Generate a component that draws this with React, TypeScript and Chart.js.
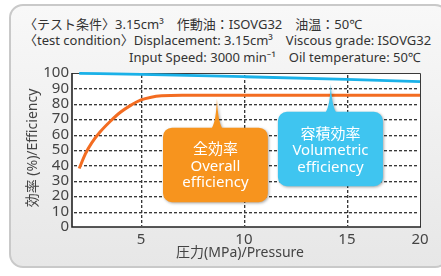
import React, { useEffect, useRef } from 'react';
import { Chart, registerables } from 'chart.js';

Chart.register(...registerables);

// ---- data ----
const overallPressure = [2.0, 2.3, 2.6, 3.0, 3.5, 4.0, 4.5, 5.0, 5.5, 6.0, 7.0, 12.0, 18.55];
const overallEfficiency = [38, 47.5, 54.5, 61.5, 68.5, 74.5, 79, 82.5, 84.3, 85.2, 85.6, 85.6, 85.6];
const volumetricPressure = [2.0, 5.0, 10.0, 15.0, 18.55];
const volumetricEfficiency = [99.8, 99.1, 97.6, 95.9, 94.4];
const xTickValues = [5, 10, 15, 18.55];
const xTickLabels = ['5', '10', '15', '20'];
const yMin = 0;
const yMax = 100;
const yStep = 10;
const headerLine1 = '〈テスト条件〉3.15cm³　作動油：ISOVG32　油温：50℃';
const headerLine2 = '〈test condition〉Displacement: 3.15cm³　Viscous grade: ISOVG32';
const headerLine3 = 'Input Speed: 3000 min⁻¹　Oil temperature: 50℃';
const xTitle = '圧力(MPa)/Pressure';
const yTitle = '効率 (%)/Efficiency';
const overallLabel = ['全効率', 'Overall', 'efficiency'];
const volumetricLabel = ['容積効率', 'Volumetric', 'efficiency'];

const FONT = '"Noto Sans", "Noto Sans CJK JP", sans-serif';

// callout geometry in data space (pressure, efficiency)
const callouts = [
  { text: overallLabel, color: '#f7941e', box: [6.07, 11.16, 64.5, 16.1], tip: [8.69, 83.2] },
  { text: volumetricLabel, color: '#3fc5f0', box: [11.65, 16.75, 74.8, 26.5], tip: [14.22, 92.9] },
];

function dashH(ctx: CanvasRenderingContext2D, x0: number, x1: number, y: number) {
  for (let x = x0 + 2; x < x1 - 1; x += 5) {
    const w = Math.min(3, x1 - 1 - x);
    ctx.fillStyle = '#383838';
    ctx.fillRect(x, y, w, 1);
    ctx.fillStyle = 'rgba(56,56,56,0.35)';
    ctx.fillRect(x, y + 1, w, 1);
  }
}
function dashV(ctx: CanvasRenderingContext2D, x: number, y0: number, y1: number) {
  for (let y = y0 + 2; y < y1 - 1; y += 5) {
    const h = Math.min(3, y1 - 1 - y);
    ctx.fillStyle = '#383838';
    ctx.fillRect(x, y, 1, h);
    ctx.fillStyle = 'rgba(56,56,56,0.35)';
    ctx.fillRect(x + 1, y, 1, h);
  }
}

const framePlugin = {
  id: 'frame',
  beforeDraw(chart: any) {
    const { ctx, chartArea: a } = chart;
    ctx.save();
    ctx.fillStyle = '#ffffff';
    ctx.fillRect(a.left, a.top, a.right - a.left, a.bottom - a.top);
    ctx.restore();
  },
  beforeDatasetsDraw(chart: any) {
    const { ctx, chartArea: a } = chart;
    const xs = chart.scales.x;
    const ys = chart.scales.y;
    ctx.save();
    // dashed grid
    ys.ticks.forEach((t: any) => {
      if (t.value <= yMin || t.value >= yMax) return;
      const py = Math.round(ys.getPixelForValue(t.value));
      dashH(ctx, a.left, a.right, py);
    });
    xs.ticks.forEach((t: any) => {
      if (t.value >= xs.max - 0.01) return;
      const px = Math.round(xs.getPixelForValue(t.value));
      dashV(ctx, px, a.top, a.bottom);
    });
    // frame
    ctx.strokeStyle = '#3a3a3a';
    ctx.lineWidth = 1;
    ctx.beginPath();
    ctx.moveTo(a.left, a.top + 0.5);
    ctx.lineTo(a.right + 0.5, a.top + 0.5);
    ctx.lineTo(a.right + 0.5, a.bottom);
    ctx.stroke();
    ctx.lineWidth = 1.6;
    ctx.strokeStyle = '#222';
    ctx.beginPath();
    ctx.moveTo(a.left, a.top);
    ctx.lineTo(a.left, a.bottom);
    ctx.lineTo(a.right + 1, a.bottom);
    ctx.stroke();
    // axis titles
    ctx.fillStyle = '#444';
    ctx.font = `14px ${FONT}`;
    ctx.textAlign = 'center';
    ctx.textBaseline = 'middle';
    ctx.fillText(xTitle, (a.left + a.right) / 2 - 6, a.bottom + 26);
    ctx.translate(a.left - 39, (a.top + a.bottom) / 2 - 2);
    ctx.rotate(-Math.PI / 2);
    ctx.fillText(yTitle, 0, 0);
    ctx.restore();
  },
};

const calloutPlugin = {
  id: 'callouts',
  afterDatasetsDraw(chart: any) {
    const { ctx } = chart;
    const x = chart.scales.x;
    const y = chart.scales.y;
    for (const c of callouts) {
      const L = x.getPixelForValue(c.box[0]);
      const R = x.getPixelForValue(c.box[1]);
      const T = y.getPixelForValue(c.box[2]);
      const B = y.getPixelForValue(c.box[3]);
      const tx = x.getPixelForValue(c.tip[0]);
      const ty = y.getPixelForValue(c.tip[1]);
      const r = 9;
      ctx.save();
      ctx.shadowColor = 'rgba(0,0,0,0.35)';
      ctx.shadowBlur = 3;
      ctx.shadowOffsetX = 1;
      ctx.shadowOffsetY = 1;
      ctx.beginPath();
      ctx.moveTo(L + r, T);
      ctx.lineTo(tx - 5, T);
      ctx.quadraticCurveTo(tx - 1, T - 6, tx, ty);
      ctx.quadraticCurveTo(tx + 1, T - 6, tx + 5, T);
      ctx.lineTo(R - r, T);
      ctx.arcTo(R, T, R, T + r, r);
      ctx.lineTo(R, B - r);
      ctx.arcTo(R, B, R - r, B, r);
      ctx.lineTo(L + r, B);
      ctx.arcTo(L, B, L, B - r, r);
      ctx.lineTo(L, T + r);
      ctx.arcTo(L, T, L + r, T, r);
      ctx.closePath();
      ctx.fillStyle = c.color;
      ctx.fill();
      ctx.restore();

      ctx.save();
      ctx.fillStyle = '#ffffff';
      ctx.font = `15px ${FONT}`;
      ctx.textAlign = 'center';
      ctx.textBaseline = 'middle';
      const cx = (L + R) / 2;
      c.text.forEach((t, i) => {
        ctx.fillText(t, cx, T + 22.5 + i * 16.5);
      });
      ctx.restore();
    }
  },
};

export default function App() {
  const ref = useRef<HTMLCanvasElement | null>(null);

  useEffect(() => {
    document.body.style.margin = '0';
    const canvas = ref.current;
    if (!canvas) return;
    const chart = new Chart(canvas, {
      type: 'line',
      data: {
        datasets: [
          {
            label: 'Volumetric efficiency',
            data: volumetricPressure.map((p, i) => ({ x: p, y: volumetricEfficiency[i] })),
            borderColor: '#1ab1e8',
            borderWidth: 2.8,
            pointRadius: 0,
            cubicInterpolationMode: 'monotone',
            clip: 6,
          },
          {
            label: 'Overall efficiency',
            data: overallPressure.map((p, i) => ({ x: p, y: overallEfficiency[i] })),
            borderColor: '#f36c21',
            borderWidth: 3,
            pointRadius: 0,
            cubicInterpolationMode: 'monotone',
            clip: 6,
          },
        ],
      },
      options: {
        animation: false,
        responsive: false,
        maintainAspectRatio: false,
        layout: { padding: { left: 18, top: 73, right: 21, bottom: 0 } },
        plugins: { legend: { display: false }, tooltip: { enabled: false } },
        scales: {
          x: {
            type: 'linear',
            min: 1.65,
            max: 18.55,
            afterBuildTicks: (s: any) => {
              s.ticks = xTickValues.map((v) => ({ value: v }));
            },
            afterFit: (s: any) => {
              s.height = 49;
            },
            ticks: {
              callback: (_v: any, i: number) => xTickLabels[i],
              color: '#444',
              font: { size: 15, family: FONT },
              padding: 4,
              maxRotation: 0,
              autoSkip: false,
            },
            grid: { display: false, drawTicks: false },
            border: { display: false },
          },
          y: {
            min: yMin,
            max: yMax,
            afterFit: (s: any) => {
              s.width = 54;
            },
            ticks: {
              stepSize: yStep,
              color: '#444',
              font: { size: 15, family: FONT },
              padding: 3,
              autoSkip: false,
            },
            grid: { display: false, drawTicks: false },
            border: { display: false },
          },
        },
      },
      plugins: [framePlugin, calloutPlugin],
    } as any);
    return () => chart.destroy();
  }, []);

  const headerStyle: React.CSSProperties = {
    position: 'absolute',
    fontFamily: FONT,
    fontSize: 13,
    lineHeight: '16px',
    color: '#333',
    whiteSpace: 'nowrap',
  };

  return (
    <div style={{ position: 'fixed', left: 0, top: 0, width: 441, height: 276, overflow: 'hidden', background: '#ffffff' }}>
      <div
        style={{
          position: 'absolute',
          left: 9,
          top: 4,
          width: 440,
          height: 264,
          boxSizing: 'border-box',
          border: '2px solid #c9c9c9',
          borderRadius: 14,
          background: 'linear-gradient(#f8f8f8, #e7e7e7)',
        }}
      />
      <div style={{ ...headerStyle, left: 24, top: 16 }}>{headerLine1}</div>
      <div style={{ ...headerStyle, left: 24, top: 32 }}>{headerLine2}</div>
      <div style={{ ...headerStyle, left: 129, top: 49 }}>{headerLine3}</div>
      <canvas ref={ref} width={441} height={276} style={{ position: 'absolute', left: 0, top: 0, width: 441, height: 276 }} />
    </div>
  );
}
